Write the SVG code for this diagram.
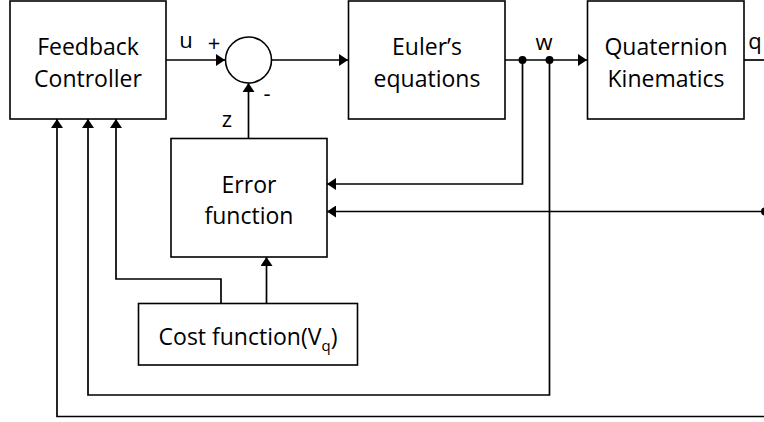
<svg xmlns="http://www.w3.org/2000/svg" width="764" height="422" viewBox="0 0 764 422">
<defs>
<style>
.box{fill:#fff;stroke:#000;stroke-width:1.6}
.t{font-family:"Open Sans","Liberation Sans",sans-serif;font-size:23px;fill:#000;text-anchor:middle}
.lb{font-family:"Open Sans","Liberation Sans",sans-serif;font-size:22px;fill:#000;text-anchor:middle}
.c{fill:none;stroke:#000;stroke-width:1.7}
.dot{fill:#000}
</style>
<marker id="ah" markerUnits="userSpaceOnUse" markerWidth="10" markerHeight="12" refX="9" refY="6" orient="auto">
<path d="M0,0 L9,6 L0,12 z" fill="#000"/>
</marker>
</defs>
<rect width="764" height="422" fill="#fff"/>
<g id="connectors">
<path class="c" d="M166,60 H225" marker-end="url(#ah)"/>
<path class="c" d="M272,60 H348" marker-end="url(#ah)"/>
<path class="c" d="M505,60 H587" marker-end="url(#ah)"/>
<path class="c" d="M744,60 H764"/>
<path class="c" d="M248.5,138 V83" marker-end="url(#ah)"/>
<path class="c" d="M522.5,60 V184 H327" marker-end="url(#ah)"/>
<path class="c" d="M549.5,60 V395 H88 V119" marker-end="url(#ah)"/>
<path class="c" d="M765,211.5 H327" marker-end="url(#ah)"/>
<path class="c" d="M766,416.5 H57 V119" marker-end="url(#ah)"/>
<path class="c" d="M221,303 V279 H116 V119" marker-end="url(#ah)"/>
<path class="c" d="M266.5,303 V257" marker-end="url(#ah)"/>
<circle class="dot" cx="522.5" cy="60" r="4"/>
<circle class="dot" cx="549.5" cy="60" r="4"/>
<circle class="dot" cx="765" cy="211.5" r="4"/>
<text class="lb" x="186" y="48">u</text>
<text class="lb" x="214" y="51">+</text>
<text class="lb" x="267" y="101">-</text>
<text class="lb" x="227" y="127">z</text>
<text class="lb" x="544" y="50">w</text>
<text class="lb" x="755" y="49" text-anchor="start">q</text>
</g>
<g id="controller">
<rect class="box" x="10" y="1" width="156" height="118"/>
<text class="t" x="88" y="55">Feedback</text>
<text class="t" x="88" y="87">Controller</text>
</g>
<g id="sum">
<circle class="box" cx="248.5" cy="60" r="23"/>
</g>
<g id="euler">
<rect class="box" x="348.5" y="1" width="156.5" height="118"/>
<text class="t" x="427" y="55">Euler’s</text>
<text class="t" x="427" y="87">equations</text>
</g>
<g id="quaternion">
<rect class="box" x="587.5" y="1" width="156.5" height="118"/>
<text class="t" x="666" y="55">Quaternion</text>
<text class="t" x="666" y="87">Kinematics</text>
</g>
<g id="error">
<rect class="box" x="171" y="138.5" width="156" height="118.5"/>
<text class="t" x="249" y="193">Error</text>
<text class="t" x="249" y="224">function</text>
</g>
<g id="cost">
<rect class="box" x="138.5" y="303.5" width="219" height="61.5"/>
<text class="t" x="248" y="345" font-size="22">Cost function(V<tspan font-size="15" dy="6">q</tspan><tspan dy="-6">)</tspan></text>
</g>
</svg>
